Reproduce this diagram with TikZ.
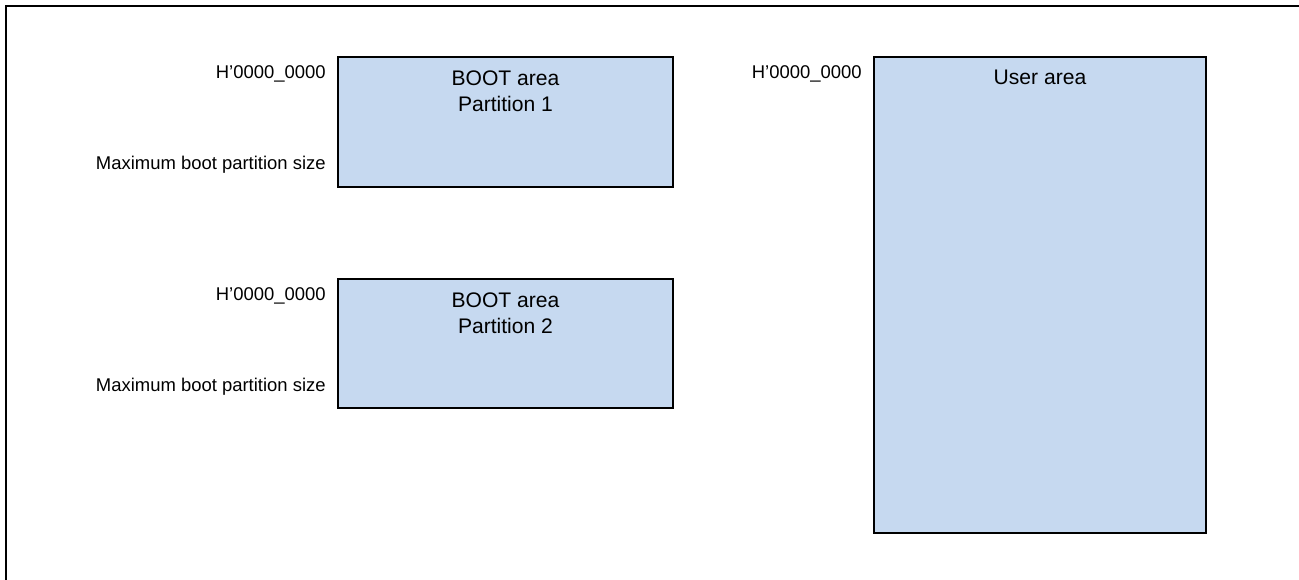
\documentclass[tikz,border=0pt]{standalone}
\usepackage{fontspec}
\setmainfont{Liberation Sans}
\usetikzlibrary{positioning}
\definecolor{areablue}{HTML}{C6D9F0}

\begin{document}
\begin{tikzpicture}[x=0.02cm, y=-0.02cm, font=\fontsize{10.5}{12.6}\selectfont,
  area/.style={draw=black, line width=1.1pt, fill=areablue, anchor=north west, inner sep=0pt},
  areatext/.style={font=\fontsize{12}{15}\selectfont, align=center, inner sep=0pt, anchor=north},
  addr/.style={anchor=east, inner sep=0pt}]
\useasboundingbox (0,0) rectangle (1299,580);
%\draw[draw=black] (0,0) rectangle (1299,580);
\draw[line width=1.1pt] (6,580)--(6,6)--(1299,6);
% boot partitions
\node[area, minimum width=335*0.02cm, minimum height=130*0.02cm] (boot1) at (337,56) {};
\node[area, minimum width=335*0.02cm, minimum height=129*0.02cm] (boot2) at (337,278) {};
% user area
\node[area, minimum width=332*0.02cm, minimum height=476*0.02cm] (user) at (873,56) {};
\node[areatext, below=8pt of boot1.north] (boot1txt) {BOOT area\\Partition 1};
\node[areatext, below=8pt of boot2.north] (boot2txt) {BOOT area\\Partition 2};
\node[areatext, below=8pt of user.north] (usertxt) {User area};
% addresses
\node[addr] (start1) at (326,74) {H’0000\_0000};
\node[addr] (end1) at (326,165) {Maximum boot partition size};
\node[addr] (start2) at (326,296) {H’0000\_0000};
\node[addr] (end2) at (326,387) {Maximum boot partition size};
\node[addr] (start3) at (862,74) {H’0000\_0000};
\end{tikzpicture}
\end{document}
